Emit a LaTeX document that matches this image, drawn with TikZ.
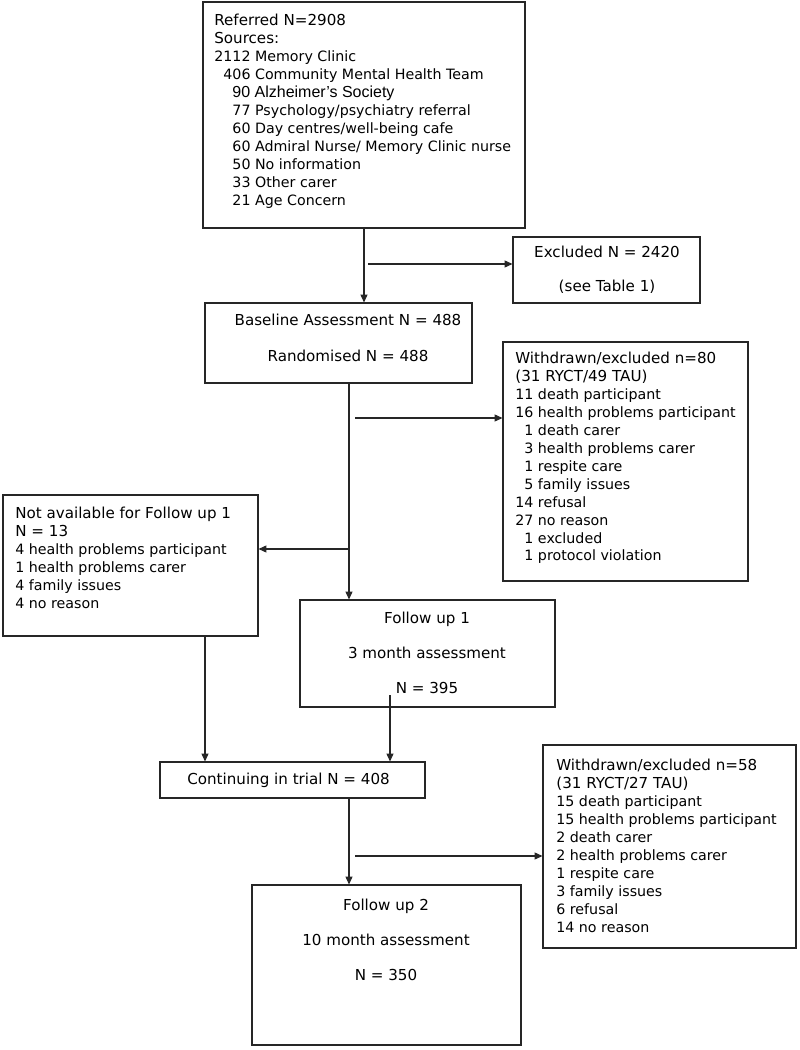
\documentclass[tikz,border=0pt]{standalone}
\usepackage{fontspec}
\setmainfont{DejaVu Sans}
\newfontfamily\arialfont{Liberation Sans}
\usetikzlibrary{arrows.meta,fit}
\newcommand{\boxhead}{\fontsize{8.6}{10.2}\selectfont}

\begin{document}
\begin{tikzpicture}[
  x=0.02cm, y=-0.02cm,
  box/.style={draw=black!85, line width=0.6pt, inner sep=0pt},
  lst/.style={anchor=north west, align=left, inner sep=0pt, font=\fontsize{8.1}{10.2}\selectfont},
  mid/.style={align=center, inner sep=0pt, font=\fontsize{8.6}{10.2}\selectfont},
  arr/.style={-{Triangle[length=4.5pt,width=4pt]}, line width=0.6pt, draw=black!85}
]
  \useasboundingbox (0,0) rectangle (800,1050);

  % boxes, top to bottom
  \node[box, fit={(203,2) (525,228)}] (ref) {};
  \node[lst] (reftxt) at (214,14) {{\boxhead Referred N=2908}\\{\boxhead Sources:}\\
    2112 Memory Clinic\\
    \phantom{0}406 Community Mental Health Team\\
    \phantom{00}{\arialfont\fontsize{9.1}{10.2}\selectfont 90 Alzheimer’s Society}\\
    \phantom{00}77 Psychology/psychiatry referral\\
    \phantom{00}60 Day centres/well-being cafe\\
    \phantom{00}60 Admiral Nurse/ Memory Clinic nurse\\
    \phantom{00}50 No information\\
    \phantom{00}33 Other carer\\
    \phantom{00}21 Age Concern};

  \node[box, fit={(513,237) (700,303)}] (excl) {};
  \node[mid] (excltxt) at (607,270) {Excluded N = 2420\\[9pt](see Table 1)};

  \node[box, fit={(205,303) (472,383)}] (base) {};
  \node[mid] (basetxt) at (348,338) {Baseline Assessment N = 488\\[10pt]Randomised N = 488};

  \node[box, fit={(503,342) (748,581)}] (wd1) {};
  \node[lst] (wd1txt) at (515,352) {{\boxhead Withdrawn/excluded n=80}\\{\boxhead (31 RYCT/49 TAU)}\\
    11 death participant\\
    16 health problems participant\\
    \phantom{1}1 death carer\\
    \phantom{1}3 health problems carer\\
    \phantom{1}1 respite care\\
    \phantom{1}5 family issues\\
    14 refusal\\
    27 no reason\\
    \phantom{1}1 excluded\\
    \phantom{1}1 protocol violation};

  \node[box, fit={(3,495) (258,636)}] (na) {};
  \node[lst] (natxt) at (15,507) {{\boxhead Not available for Follow up 1}\\{\boxhead N = 13}\\
    4 health problems participant\\
    1 health problems carer\\
    4 family issues\\
    4 no reason};

  \node[box, fit={(300,600) (555,707)}] (fu1) {};
  \node[mid] (fu1txt) at (427,653) {Follow up 1\\[9.6pt]3 month assessment\\[9.6pt]N = 395};

  \node[box, fit={(160,762) (425,798)}] (cont) {};
  \node[mid, anchor=west] (conttxt) at (187,780) {Continuing in trial N = 408};

  \node[box, fit={(543,745) (796,948)}] (wd2) {};
  \node[lst] (wd2txt) at (556,759) {{\boxhead Withdrawn/excluded n=58}\\{\boxhead (31 RYCT/27 TAU)}\\
    15 death participant\\
    15 health problems participant\\
    2 death carer\\
    2 health problems carer\\
    1 respite care\\
    3 family issues\\
    6 refusal\\
    14 no reason};

  \node[box, fit={(252,885) (521,1045)}] (fu2) {};
  \node[mid] (fu2txt) at (386,940) {Follow up 2\\[9.6pt]10 month assessment\\[9.6pt]N = 350};

  % split points
  \coordinate (s0) at (368,264);
  \coordinate (s1) at (349,418);
  \coordinate (s1r) at (355,418);
  \coordinate (s2) at (349,549);
  \coordinate (j1) at (205,700);
  \coordinate (j2) at (390,695);
  \coordinate (s3) at (349,856);
  \coordinate (s3r) at (355,856);

  % connectors
  \draw[arr] (ref.south) -- (ref.south |- base.north);
  \draw[arr] (s0) -- (s0 -| excl.west);
  \draw[arr] (s1 |- base.south) -- (s1 |- fu1.north);
  \draw[arr] (s1r) -- (s1r -| wd1.west);
  \draw[arr] (s2) -- (s2 -| na.east);
  \draw[arr] (j1 |- na.south) -- (j1 |- cont.north);
  \draw[arr] (j2) -- (j2 |- cont.north);
  \draw[arr] (s3 |- cont.south) -- (s3 |- fu2.north);
  \draw[arr] (s3r) -- (s3r -| wd2.west);
\end{tikzpicture}
\end{document}
